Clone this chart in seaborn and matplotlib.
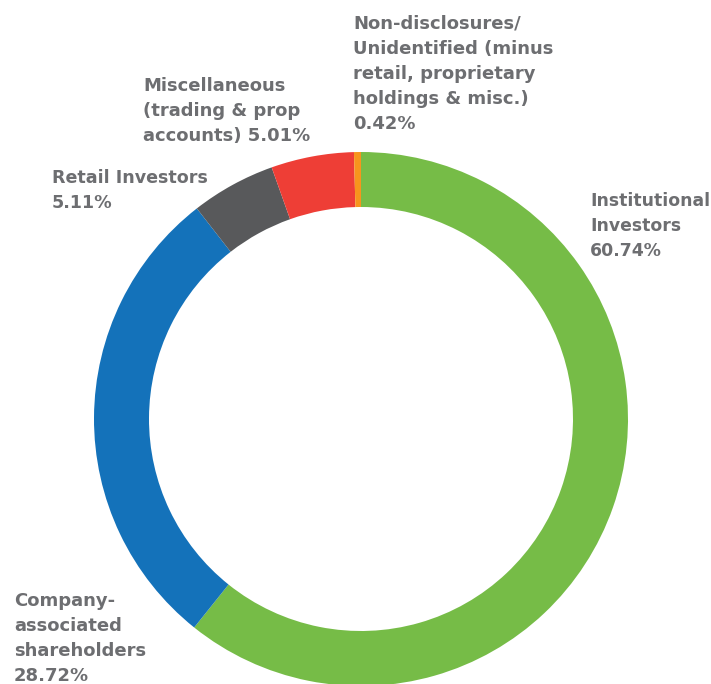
import matplotlib
matplotlib.use("Agg")
import matplotlib.pyplot as plt
import seaborn as sns

# shareholder breakdown (percent)
categories = ["Institutional Investors", "Company-associated shareholders",
              "Retail Investors", "Miscellaneous", "Non-disclosures/Unidentified"]
shares = [60.74, 28.72, 5.11, 5.01, 0.42]
labels = [
    "Institutional\nInvestors\n60.74%",
    "Company-\nassociated\nshareholders\n28.72%",
    "Retail Investors\n5.11%",
    "Miscellaneous\n(trading & prop\naccounts) 5.01%",
    "Non-disclosures/\nUnidentified (minus\nretail, proprietary\nholdings & misc.)\n0.42%",
]
colors = sns.color_palette(["#76bc47", "#1472ba", "#58595b", "#ee3e36", "#f7941d"])

sns.set_theme(style="white")
plt.rcParams['font.family'] = ['DejaVu Sans']

W, H = 711, 684
fig = plt.figure(figsize=(W / 100, H / 100), dpi=100)
ax = fig.add_axes([0, 0, 1, 1])

cx, cy, r = 361, H - 419, 267
ax.pie(shares, colors=colors, startangle=90, counterclock=False,
       radius=r, center=(cx, cy), frame=True,
       wedgeprops=dict(width=55, linewidth=0))
ax.set_xlim(0, W)
ax.set_ylim(0, H)
ax.set_aspect("equal")
ax.axis("off")

# label positions (left, top) in pixels from the top-left, and font sizes
label_pos = [(590, 192), (14, 592), (52, 169), (143, 77), (353, 15)]
label_size = [12.4, 13, 12.6, 13, 13]
for text, (x, y), fs in zip(labels, label_pos, label_size):
    ax.text(x, H - y, text, ha="left", va="top", fontsize=fs,
            fontweight="bold", color="#6d6e71", linespacing=1.5)

fig.savefig("out.png", dpi=100)
